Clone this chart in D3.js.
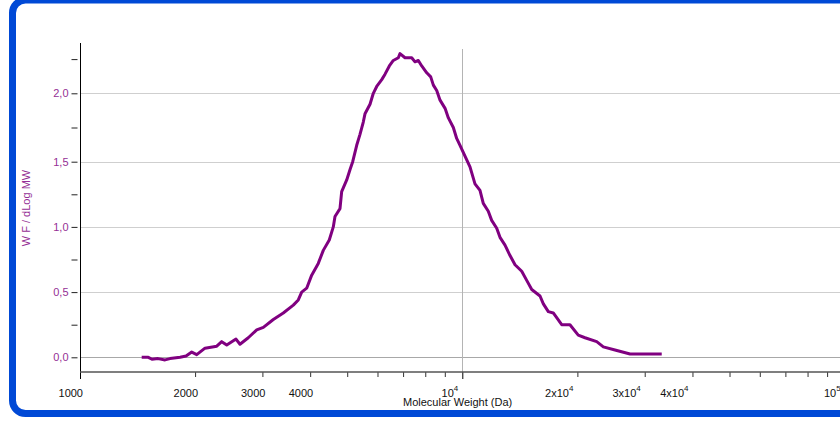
<!DOCTYPE html>
<html>
<head>
<meta charset="utf-8">
<script src="https://cdn.jsdelivr.net/npm/d3@7"></script>
<style>
  body { margin: 0; background: #fff; }
  text { font-family: "Liberation Sans", Arial, sans-serif; }
</style>
</head>
<body>
<svg id="chart" width="840" height="421"></svg>
<script>
const width = 840, height = 421;

// molecular weight (Da) and WF/dLogMW
const mw = [1450,1509,1543,1600,1669,1720,1827,1894,1960,2020,2123,2279,2348,2420,2559,2621,2755,2899,3017,3204,
  3402,3614,3724,3801,3917,4037,4200,4329,4488,4598,4645,4787,4836,4985,5086,5168,5294,5400,5508,5565,
  5736,5851,5972,6156,6279,6444,6600,6803,6871,7082,7373,7522,7673,7832,8072,8268,8400,8572,8746,9014,
  9195,9474,9667,9863,10164,10474,10794,11124,11347,11694,11936,12303,12549,12933,13330,13738,14303,14740,15192,15970,
  16293,16788,17298,18197,19125,20104,20941,22470,23384,25084,27466,33240];
const wf = [0.00,0.00,-0.015,-0.01,-0.02,-0.01,0.00,0.01,0.04,0.02,0.07,0.085,0.12,0.094,0.14,0.10,0.15,0.21,0.23,0.29,
  0.34,0.40,0.44,0.50,0.53,0.63,0.72,0.82,0.90,1.00,1.08,1.14,1.27,1.36,1.44,1.50,1.62,1.70,1.79,1.85,
  1.92,2.00,2.05,2.10,2.14,2.20,2.24,2.26,2.29,2.26,2.26,2.23,2.24,2.20,2.15,2.12,2.06,2.02,1.95,1.89,
  1.82,1.75,1.67,1.62,1.54,1.46,1.33,1.28,1.18,1.12,1.05,0.99,0.92,0.86,0.78,0.71,0.66,0.59,0.52,0.47,
  0.41,0.35,0.34,0.25,0.25,0.17,0.15,0.12,0.08,0.056,0.025,0.025];

const yTicks = [0, 0.25, 0.5, 0.75, 1.0, 1.25, 1.5, 1.75, 2.0, 2.25];
const yLabels = ["0,0", "", "0,5", "", "1,0", "", "1,5", "", "2,0", ""];
const yGrid = [0.5, 1.0, 1.5, 2.0];

const xMajor = [1000, 10000, 100000];
const xLabelValues = [1000, 2000, 3000, 4000, 10000, 20000, 30000, 40000, 100000];
const xLabels = ["1000", "2000", "3000", "4000", "10^4", "2x10^4", "3x10^4", "4x10^4", "10^5"];

const purple = "#800080", labelPurple = "#952f95";

const svg = d3.select("#chart");

const x = d3.scaleLog().domain([1000, 100000]).range([80, 844.6]);
const y = d3.scaleLinear().domain([0, 1.5, 2.5]).range([357.3, 161.7, 24.9]);

// frame
svg.append("rect")
  .attr("x", 12.5).attr("y", 0).attr("width", 860).attr("height", 413.5)
  .attr("rx", 13)
  .attr("fill", "none").attr("stroke", "#0049d6").attr("stroke-width", 7);

// grid
svg.selectAll(".hgrid").data(yGrid).enter().append("line")
  .attr("x1", 80).attr("x2", 840)
  .attr("y1", d => Math.round(y(d)) + 0.5).attr("y2", d => Math.round(y(d)) + 0.5)
  .attr("stroke", "#cfcfcf").attr("stroke-width", 1);
svg.append("line")
  .attr("x1", 80).attr("x2", 840)
  .attr("y1", Math.round(y(0)) + 0.5).attr("y2", Math.round(y(0)) + 0.5)
  .attr("stroke", "#a8a8a8");
svg.append("line")
  .attr("x1", Math.round(x(10000)) + 0.5).attr("x2", Math.round(x(10000)) + 0.5)
  .attr("y1", 49).attr("y2", 372)
  .attr("stroke", "#b4b4b4");

// y axis
const yAxis = d3.axisLeft(y).tickValues(yTicks).tickSize(6).tickPadding(3)
  .tickFormat((d, i) => yLabels[i]);
const gy = svg.append("g").attr("transform", "translate(77.5,0)").call(yAxis);
gy.select(".domain").remove();
gy.selectAll(".tick line").attr("stroke", "#222");
gy.selectAll(".tick text").attr("fill", labelPurple).style("font-size", "11px")
  .attr("font-family", "Liberation Sans, Arial, sans-serif");
svg.append("line")
  .attr("x1", 80.5).attr("x2", 80.5).attr("y1", 43).attr("y2", 379)
  .attr("stroke", "#000");

// x axis
const xMinor = [];
[1000, 10000].forEach(b => { for (let k = 1; k <= 9; k++) xMinor.push(k * b); });
const xAxis = d3.axisBottom(x).tickValues(xMinor.filter(v => !xMajor.includes(v))).tickSize(5).tickFormat("");
const gx = svg.append("g").attr("transform", "translate(0,372)").call(xAxis);
gx.select(".domain").remove();
gx.selectAll(".tick line").attr("stroke", "#333");
const xAxisMajor = d3.axisBottom(x).tickValues(xMajor).tickSize(7).tickFormat("");
const gx2 = svg.append("g").attr("transform", "translate(0,372)").call(xAxisMajor);
gx2.select(".domain").remove();
gx2.selectAll(".tick line").attr("stroke", "#000");
svg.append("line")
  .attr("x1", 80).attr("x2", 840).attr("y1", 372).attr("y2", 372)
  .attr("stroke", "#555").attr("stroke-width", 1.5);

const xl = svg.selectAll(".xlab").data(xLabelValues).enter().append("text")
  .attr("class", "xlab")
  .attr("x", (d, i) => x(d) + (xLabels[i].includes("^") ? -4 : 3))
  .attr("y", 397)
  .attr("text-anchor", "end")
  .style("font-size", "11px")
  .attr("fill", "#111");
xl.each(function(d, i) {
  const parts = xLabels[i].split("^");
  const t = d3.select(this);
  t.append("tspan").text(parts[0]);
  if (parts[1]) t.append("tspan").attr("dy", -6).style("font-size", "8px").text(parts[1]);
});

svg.append("text")
  .attr("x", 403).attr("y", 406)
  .style("font-size", "11px").attr("fill", "#111")
  .text("Molecular Weight (Da)");

svg.append("text")
  .attr("transform", "translate(26,208) rotate(-90)")
  .attr("text-anchor", "middle").attr("dominant-baseline", "central")
  .style("font-size", "11px").attr("fill", labelPurple)
  .text("W F / dLog MW");

// trace
const line = d3.line().x(d => x(d[0])).y(d => y(d[1]));
svg.append("path")
  .datum(mw.map((m, i) => [m, wf[i]]))
  .attr("d", line)
  .attr("fill", "none").attr("stroke", purple).attr("stroke-width", 3)
  .attr("stroke-linejoin", "round");
</script>
</body>
</html>
